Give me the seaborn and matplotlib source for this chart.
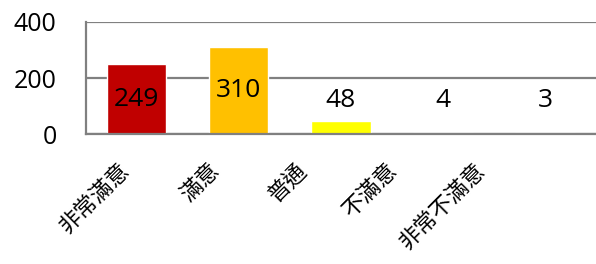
import matplotlib
matplotlib.use('Agg')
import matplotlib.pyplot as plt
import matplotlib.transforms as mtransforms
import seaborn as sns
import pandas as pd

# %%
# data
categories = ['非常滿意', '滿意', '普通', '不滿意', '非常不滿意']
counts = [249, 310, 48, 4, 3]
bar_colors = ['#C00000', '#FFC000', '#FFFF00', '#92D050', '#00B050']

df = pd.DataFrame({'category': categories, 'count': counts})

# %%
sns.set_style('white')
plt.rcParams['font.family'] = ['Open Sans', 'Noto Sans CJK TC', 'DejaVu Sans']
plt.rcParams['text.color'] = 'black'
plt.rcParams['xtick.color'] = 'black'
plt.rcParams['ytick.color'] = 'black'

fig = plt.figure(figsize=(5.96, 2.64), dpi=100)
ax = fig.add_axes([0.144, 0.492, 0.856, 0.425])

sns.barplot(data=df, x='category', y='count', hue='category', palette=bar_colors,
            legend=False, width=0.58, saturation=1, ax=ax)

ax.set_ylim(0, 400)
ax.set_yticks([0, 200, 400])
ax.set_xlim(-0.5, 4.5)
ax.set_axisbelow(True)
ax.yaxis.grid(True, color='#808080', linewidth=1.6)
ax.set_xlabel('')
ax.set_ylabel('')

for s in ['top', 'right']:
    ax.spines[s].set_visible(False)
for s in ['left', 'bottom']:
    ax.spines[s].set_color('#808080')
    ax.spines[s].set_linewidth(1.6)
ax.tick_params(axis='y', length=0, pad=21, labelsize=18, labelcolor='black')
ax.tick_params(axis='x', length=0, pad=24, labelsize=16, labelcolor='black')

# 數值標籤
for i, v in enumerate(counts):
    ax.text(i, max(v / 2, 120), str(v), ha='center', va='center', fontsize=19, color='black', zorder=3)

# 類別標籤 45度
for i, lab in enumerate(ax.get_xticklabels()):
    lab.set_rotation(45)
    lab.set_ha('right')
    lab.set_va('center')
    lab.set_rotation_mode('anchor')
    lab.set_transform(lab.get_transform() + mtransforms.ScaledTranslation(-(10 + 13 * i) / 100, 0, fig.dpi_scale_trans))

plt.savefig('out.png', dpi=100)
